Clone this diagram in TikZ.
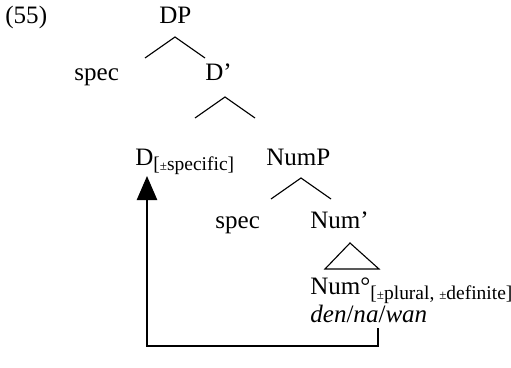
\documentclass[tikz,border=0pt,12pt]{standalone}
\usepackage{fontspec}
\setmainfont{Liberation Serif}
\usetikzlibrary{
  arrows.meta,
  calc
}
% feature bundle set as a lowered subscript
\newcommand{\feat}[1]{\raisebox{-0.5ex}{\fontsize{10.5}{12}\selectfont #1}}
\newcommand{\plusminus}{{\fontsize{7}{8}\selectfont ±}}
\tikzset{
  cat/.style={
    anchor=base west,
    inner sep=0pt,
    font=\fontsize{13.5}{16}\selectfont,
  },
  branch/.style={
    line width=0.6pt,
    line join=miter,
  },
  move/.style={
    -{Triangle[length=13bp, width=11bp]},
    line width=0.8pt,
  },
}
% one binary fork hanging under an apex point
\newcommand{\fork}[1]{%
  \draw[branch] ($(#1)+(-30,21)$) -- (#1) -- ($(#1)+(30,21)$);}

\begin{document}
\begin{tikzpicture}[x=0.537bp, y=-0.537bp]
\useasboundingbox (0,0) rectangle (511,368);

% === example number ===
\node[cat] (exno) at (5,24) {(55)};

% === DP layer ===
\node[cat] (dp) at (159,24) {DP};
\coordinate (dpfork) at (175,37);
\fork{dpfork}

\node[cat] (spec1) at (74,80) {spec};
\node[cat] (dbar) at (205,80) {D’};
\coordinate (dbarfork) at (225,97);
\fork{dbarfork}

% === D head and NumP ===
\node[cat] (d) at (135,165) {D\feat{[\plusminus specific]}};
\node[cat] (nump) at (266,165) {NumP};
\coordinate (numpfork) at (301,178);
\fork{numpfork}

\node[cat] (spec2) at (215,228) {spec};
\node[cat] (numbar) at (310,228) {Num’};

% roof over the head
\draw[branch] (350,243) -- (325,269) -- (379,269) -- cycle;

\node[cat] (num) at (310,294) {Num°\feat{[\plusminus plural, \plusminus definite]}};
\node[cat] (lex) at (310,322) {\textit{den}/\textit{na}/\textit{wan}};

% === head movement to D ===
\coordinate (trace) at (378,328);
\coordinate (landing) at (147,176);
\draw[move] (trace) -- ++(0,18) -| (landing);

\end{tikzpicture}
\end{document}
